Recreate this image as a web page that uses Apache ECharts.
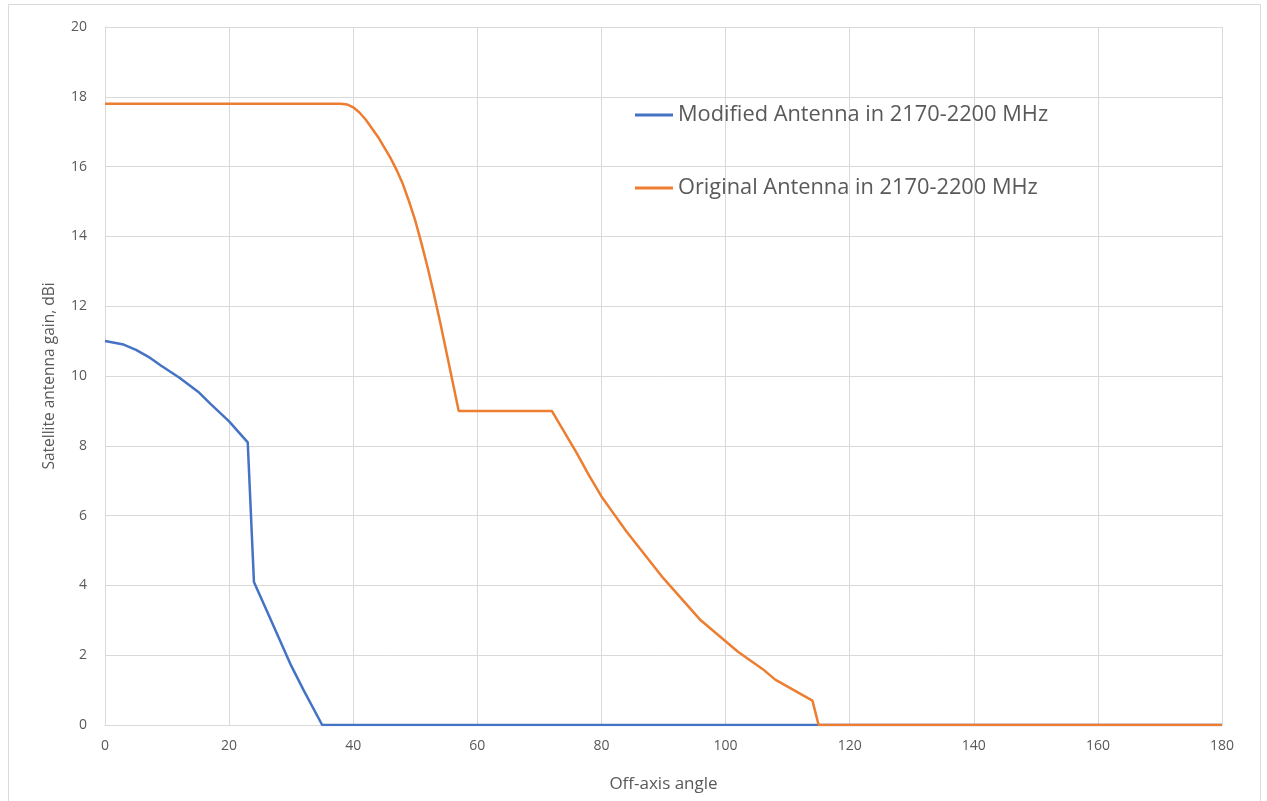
<!DOCTYPE html>
<html>
<head>
<meta charset="utf-8">
<script src="https://cdn.jsdelivr.net/npm/echarts@6/dist/echarts.min.js"></script>
<style>
html,body{margin:0;padding:0;background:#fff;}
#chart{width:1267px;height:801px;}
</style>
</head>
<body>
<div id="chart"></div>
<script>
const seriesNames = ['Modified Antenna in 2170-2200 MHz', 'Original Antenna in 2170-2200 MHz'];
const xTicks = [0, 20, 40, 60, 80, 100, 120, 140, 160, 180];
const yTicks = [0, 2, 4, 6, 8, 10, 12, 14, 16, 18, 20];

const modifiedAngles = [0, 3, 5, 7, 9, 12, 15, 17, 20, 23, 24, 26, 28, 30, 32, 35, 180];
const modifiedGain   = [11.0, 10.9, 10.75, 10.55, 10.3, 9.95, 9.55, 9.2, 8.7, 8.1, 4.1, 3.3, 2.5, 1.7, 1.0, 0, 0];

const originalAngles = [0, 38, 39, 40, 41, 42, 43, 44, 45, 46, 47, 48, 49, 50, 51, 52, 53, 54, 55, 56, 57, 72, 74, 76, 78, 80, 82, 84, 86, 88, 90, 92, 94, 96, 98, 100, 102, 104, 106, 108, 110, 112, 114, 115, 180];
const originalGain   = [17.8, 17.8, 17.78, 17.7, 17.55, 17.35, 17.1, 16.85, 16.55, 16.25, 15.9, 15.5, 15.0, 14.45, 13.8, 13.1, 12.35, 11.55, 10.7, 9.85, 9.0, 9.0, 8.4, 7.8, 7.15, 6.55, 6.05, 5.55, 5.1, 4.65, 4.2, 3.8, 3.4, 3.0, 2.7, 2.4, 2.1, 1.85, 1.6, 1.3, 1.1, 0.9, 0.7, 0, 0];

const pairs = (xs, ys) => xs.map((x, i) => [x, ys[i]]);

const chart = echarts.init(document.getElementById('chart'), null, {renderer: 'canvas'});
const font = 'Open Sans';
const textColor = '#595959';
const gridColor = '#d9d9d9';

chart.setOption({
  animation: false,
  backgroundColor: '#fff',
  graphic: [{
    type: 'rect',
    shape: {x: 8.5, y: 4.5, width: 1252, height: 820},
    style: {fill: 'none', stroke: gridColor, lineWidth: 1},
    silent: true
  }],
  grid: {left: 105, right: 45, top: 27, bottom: 76, containLabel: false},
  legend: {
    orient: 'vertical',
    left: 630,
    top: 99,
    itemGap: 51,
    itemWidth: 38,
    itemHeight: 3,
    icon: 'rect',
    data: seriesNames,
    textStyle: {fontFamily: font, fontSize: 21.8, color: textColor}
  },
  xAxis: {
    type: 'value',
    min: 0, max: 180, interval: 20,
    name: 'Off-axis angle',
    nameLocation: 'middle',
    nameGap: 51,
    nameTextStyle: {fontFamily: font, fontSize: 17, color: textColor},
    axisLine: {show: true, lineStyle: {color: gridColor, width: 1}},
    axisTick: {show: false},
    splitLine: {show: true, lineStyle: {color: gridColor, width: 1}},
    axisLabel: {fontFamily: font, fontSize: 14, color: textColor, margin: 14,
      formatter: v => xTicks.includes(v) ? String(v) : ''}
  },
  yAxis: {
    type: 'value',
    min: 0, max: 20, interval: 2,
    name: 'Satellite antenna gain, dBi',
    nameLocation: 'middle',
    nameGap: 47,
    nameRotate: 90,
    nameTextStyle: {fontFamily: font, fontSize: 15.5, color: textColor},
    axisLine: {show: true, lineStyle: {color: gridColor, width: 1}},
    axisTick: {show: false},
    splitLine: {show: true, lineStyle: {color: gridColor, width: 1}},
    axisLabel: {fontFamily: font, fontSize: 14, color: textColor, margin: 18,
      formatter: v => yTicks.includes(v) ? String(v) : ''}
  },
  series: [
    {
      name: seriesNames[0], type: 'line',
      data: pairs(modifiedAngles, modifiedGain),
      showSymbol: false, symbol: 'none',
      lineStyle: {color: '#4472C4', width: 2.5},
      itemStyle: {color: '#4472C4'},
      z: 2
    },
    {
      name: seriesNames[1], type: 'line',
      data: pairs(originalAngles, originalGain),
      showSymbol: false, symbol: 'none',
      lineStyle: {color: '#ED7D31', width: 2.5},
      itemStyle: {color: '#ED7D31'},
      z: 3
    }
  ]
});
</script>
</body>
</html>
